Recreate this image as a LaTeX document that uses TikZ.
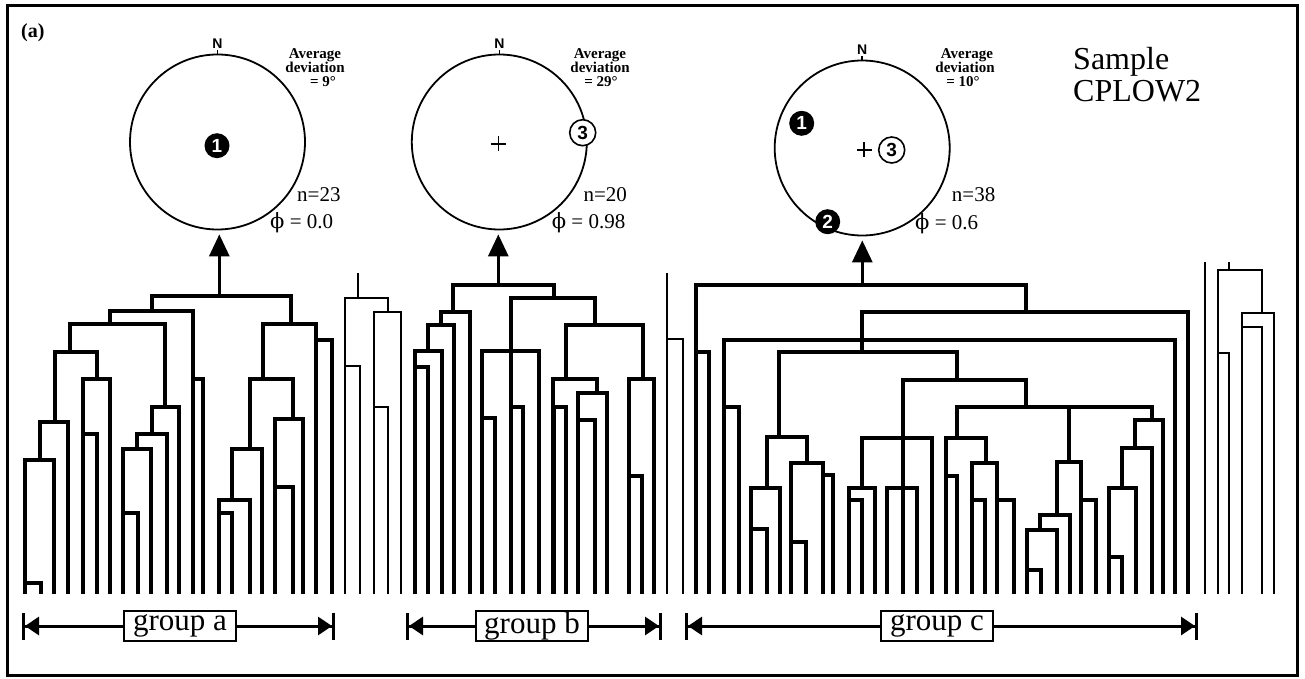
\documentclass[tikz,border=0pt]{standalone}
\usepackage{fontspec}
\setmainfont{Liberation Serif}
\newfontfamily\lsans{Liberation Sans}
\newfontfamily\phifont{DejaVu Serif}
\usetikzlibrary{arrows.meta}

% one bracket of the dendrogram: left leg from (#1,#2), bar at height #5, right leg down to (#3,#4)
\newcommand\brk[5]{\draw (#1,#2) -- (#1,#5) -- (#3,#5) -- (#3,#4);}

\tikzset{
  thk/.style={line width=3.7pt, line join=miter},
  thn/.style={line width=1.8pt, line join=miter},
  net/.style={circle, draw, line width=1.8pt, minimum size=175pt, inner sep=0pt},
  blk/.style={circle, fill=black, minimum size=25pt, inner sep=0pt, text=white,
              font=\lsans\bfseries\fontsize{19}{19}\selectfont},
  opn/.style={circle, draw, fill=white, line width=1.6pt, minimum size=26pt, inner sep=0pt,
              font=\lsans\bfseries\fontsize{19}{19}\selectfont},
  crs/.style={line width=1.4pt},
  nlab/.style={inner sep=0pt, font=\lsans\bfseries\fontsize{14}{14}\selectfont},
  avg/.style={anchor=base, inner sep=0pt, font=\bfseries\fontsize{15}{15}\selectfont},
  stat/.style={anchor=base west, inner sep=0pt, font=\fontsize{21}{21}\selectfont},
  up/.style={line width=3pt, -{Triangle[length=22pt,width=20pt]}, shorten >=4pt},
  glab/.style={draw, line width=1.3pt, fill=white, minimum width=112pt, minimum height=30pt,
               inner sep=0pt, font=\fontsize{31}{31}\selectfont},
  gl/.style={line width=3pt},
  gtipL/.style={{Bar[width=27pt,sep=0pt]Triangle[length=14pt,width=18pt,sep=0pt]}-},
  gtipR/.style={-{Triangle[length=14pt,width=18pt,sep=0pt]Bar[width=27pt,sep=0pt]}},
}

\begin{document}
\begin{tikzpicture}[x=1pt,y=-1pt]
\useasboundingbox (0,0) rectangle (1305,679);
\fill[white] (0,0) rectangle (1305,679);
\draw[line width=3pt] (7,6) rectangle (1297,675);

\node[anchor=base west, inner sep=0pt, font=\bfseries\fontsize{20}{20}\selectfont] (panel) at (21,38) {(a)};

% ---- stereonets ----
\node[net] (c1) at (217.5,142) {};
\node[net] (c2) at (499.3,142) {};
\node[net] (c3) at (862.2,148) {};

\foreach \c in {c1,c2,c3}{
  \draw[line width=1.5pt] (\c.north) -- ++(0,-4) coordinate (\c tick);
  \node[nlab, anchor=south] (\c N) at ([yshift=1pt]\c tick) {N};
}

\node[blk] (c1p1) at (217,145.7) {1};

\draw[crs] (490.8,144) -- (505.8,144) (498.3,136.5) -- (498.3,151.5);
\node[opn] (c2p3) at (582.7,132.7) {3};

\node[blk] (c3p1) at (801.7,123.3) {1};
\node[blk] (c3p2) at (827.7,221.7) {2};
\draw[crs] (856.5,150) -- (871.5,150) (864,142.5) -- (864,157.5);
\node[opn] (c3p3) at (891.7,150) {3};

% annotations
\node[avg] (a1) at (315,59) {Average};
\node[avg] (b1) at (315,73) {deviation};
\node[avg] (e1) at (323,87) {= 9°};
\node[stat] (n1) at (297,201.7) {n=23};
\node[stat] (f1) at (270,228.3) {{\phifont ϕ} = 0.0};

\node[avg] (a2) at (600,59) {Average};
\node[avg] (b2) at (600,73) {deviation};
\node[avg] (e2) at (601,87) {= 29°};
\node[stat] (n2) at (583.3,201.7) {n=20};
\node[stat] (f2) at (551.7,228.3) {{\phifont ϕ} = 0.98};

\node[avg] (a3) at (967,59) {Average};
\node[avg] (b3) at (965,73) {deviation};
\node[avg] (e3) at (963,87) {= 10°};
\node[stat] (n3) at (951.7,201.7) {n=38};
\node[stat] (f3) at (915,229.3) {{\phifont ϕ} = 0.6};

\node[anchor=base west, inner sep=0pt, font=\fontsize{32}{32}\selectfont] (s1) at (1073,70) {Sample};
\node[anchor=base west, inner sep=0pt, font=\fontsize{32}{32}\selectfont] (s2) at (1073,101.7) {CPLOW2};

% ---- tree roots and arrows to the stereonets ----
\coordinate (ra) at (219.3,296);
\coordinate (rb) at (498.3,285);
\coordinate (rc) at (862.3,285);
\draw[up] (ra) -- (ra |- c1.south);
\draw[up] (rb) -- (rb |- c2.south);
\draw[up] (rc) -- (rc |- c3.south);

% ---- group a ----
\begin{scope}[thk]
\brk{151.7}{310.7}{291}{324}{296}
\brk{110}{324}{193.3}{594}{310.7}
\brk{193.3}{594}{203.3}{594}{379}
\brk{70}{351.7}{165}{406.7}{324}
\brk{55}{421.7}{96.7}{379}{351.7}
\brk{82.7}{594}{110}{594}{379}
\brk{82.7}{594}{96.7}{594}{434}
\brk{40}{460}{68.3}{594}{421.7}
\brk{25}{594}{54}{594}{460}
\brk{25}{594}{40.7}{594}{582.7}
\brk{151.7}{434}{179.3}{594}{406.7}
\brk{136.7}{449.3}{166.7}{594}{434}
\brk{123.3}{594}{151.2}{594}{449.3}
\brk{123.3}{594}{137.7}{594}{512.7}
\brk{263.3}{379}{316}{594}{324}
\brk{316}{594}{331.7}{594}{340}
\brk{250}{449.3}{292.7}{419.3}{379}
\brk{275}{594}{303.3}{594}{419.3}
\brk{275}{594}{292.7}{594}{486.7}
\brk{232.3}{500}{261.7}{594}{449.3}
\brk{219.3}{594}{250}{594}{500}
\brk{219.3}{594}{232.3}{594}{513.3}
\end{scope}

% ---- unassigned lines between a and b ----
\begin{scope}[thn]
\draw (358.3,273) -- (358.3,298.3);
\brk{345}{594}{387.7}{311.7}{298.3}
\brk{374.3}{594}{400.7}{594}{311.7}
\brk{345}{594}{360}{594}{366}
\brk{374.3}{594}{387.7}{594}{407.3}
\end{scope}

% ---- group b ----
\begin{scope}[thk]
\brk{452.7}{311.7}{554}{298.3}{285}
\brk{441}{325}{470}{594}{311.7}
\brk{427.7}{351}{454}{594}{325}
\brk{415}{594}{441.7}{594}{351}
\brk{415}{594}{428.3}{594}{366.7}
\brk{511}{594}{595}{325}{298.3}
\brk{482.3}{594}{539.3}{594}{351}
\brk{482.3}{594}{495}{594}{418.3}
\brk{511}{594}{523.3}{594}{406.7}
\brk{566}{379.3}{643.3}{379.3}{325}
\brk{629}{594}{654.3}{594}{379.3}
\brk{629}{594}{642.3}{594}{476}
\brk{553.3}{594}{596.7}{392.7}{379.3}
\brk{578.3}{594}{607.3}{594}{392.7}
\brk{578.3}{594}{595}{594}{420}
\brk{554.5}{594}{566}{594}{406.7}
\end{scope}

% ---- unassigned lines between b and c ----
\begin{scope}[thn]
\draw (667.3,273.3) -- (667.3,594);
\brk{667.3}{594}{683.3}{594}{339.3}
\end{scope}

% ---- group c ----
\begin{scope}[thk]
\brk{696}{594}{1026}{311.7}{285}
\brk{696}{594}{709.3}{594}{351.7}
\brk{862.3}{351.7}{1188.3}{594}{311.7}
\brk{724.3}{594}{1175}{594}{339.7}
\brk{724.3}{594}{739.3}{594}{407.3}
\brk{779}{436.7}{956.7}{380}{351.7}
\brk{766.7}{488.3}{806.7}{462.7}{436.7}
\brk{750.7}{594}{780}{594}{488.3}
\brk{750.7}{594}{767.3}{594}{529.3}
\brk{791}{594}{822.7}{594}{462.7}
\brk{822.7}{594}{833.3}{594}{475}
\brk{791}{594}{806}{594}{541.7}
\brk{903.3}{594}{1026}{406.7}{380}
\brk{861.7}{488.3}{931.7}{594}{438.3}
\brk{849}{594}{875}{594}{488.3}
\brk{849}{594}{861.7}{594}{500}
\brk{887.3}{594}{917.3}{594}{488.3}
\brk{956.7}{438.3}{1152.3}{420}{406.7}
\brk{945.7}{594}{986}{462.7}{438.3}
\brk{945.7}{594}{956.7}{594}{476}
\brk{972.3}{594}{997.3}{594}{462.7}
\brk{972.3}{594}{985}{594}{500}
\brk{997.3}{594}{1014}{594}{500}
\draw (1069.3,406.7) -- (1069.3,461.7);
\brk{1056.7}{515}{1080.7}{500}{461.7}
\brk{1080.7}{594}{1095.7}{594}{500}
\brk{1040}{530}{1070}{594}{515}
\brk{1026.7}{594}{1056.7}{594}{530}
\brk{1026.7}{594}{1041}{594}{570}
\brk{1135}{448.3}{1163.3}{594}{420}
\brk{1121.7}{488.3}{1151.7}{594}{448.3}
\brk{1109.3}{594}{1136}{594}{488.3}
\brk{1109.3}{594}{1122.3}{594}{556.7}
\end{scope}

% ---- unassigned lines right of c ----
\begin{scope}[thn]
\draw (1205,261.7) -- (1205,594);
\draw (1229.3,261.7) -- (1229.3,270);
\brk{1217.7}{594}{1261.7}{313.3}{270}
\brk{1242.3}{594}{1274.3}{594}{313.3}
\brk{1242.3}{594}{1261.7}{594}{327.3}
\brk{1217.7}{594}{1229.3}{594}{353.3}
\end{scope}

% ---- group extents ----
\node[glab] (ga) at (180,626) {group a};
\node[glab] (gb) at (532,626) {group b};
\node[glab] (gc) at (937,626) {group c};
\coordinate (gaL) at (22,626);  \coordinate (gaR) at (335,626);
\coordinate (gbL) at (406,626); \coordinate (gbR) at (662,626);
\coordinate (gcL) at (685,626); \coordinate (gcR) at (1198,626);
\draw[gl,gtipL] (gaL) -- (ga.west);
\draw[gl,gtipR] (ga.east) -- (gaR);
\draw[gl,gtipL] (gbL) -- (gb.west);
\draw[gl,gtipR] (gb.east) -- (gbR);
\draw[gl,gtipL] (gcL) -- (gc.west);
\draw[gl,gtipR] (gc.east) -- (gcR);
\end{tikzpicture}
\end{document}
